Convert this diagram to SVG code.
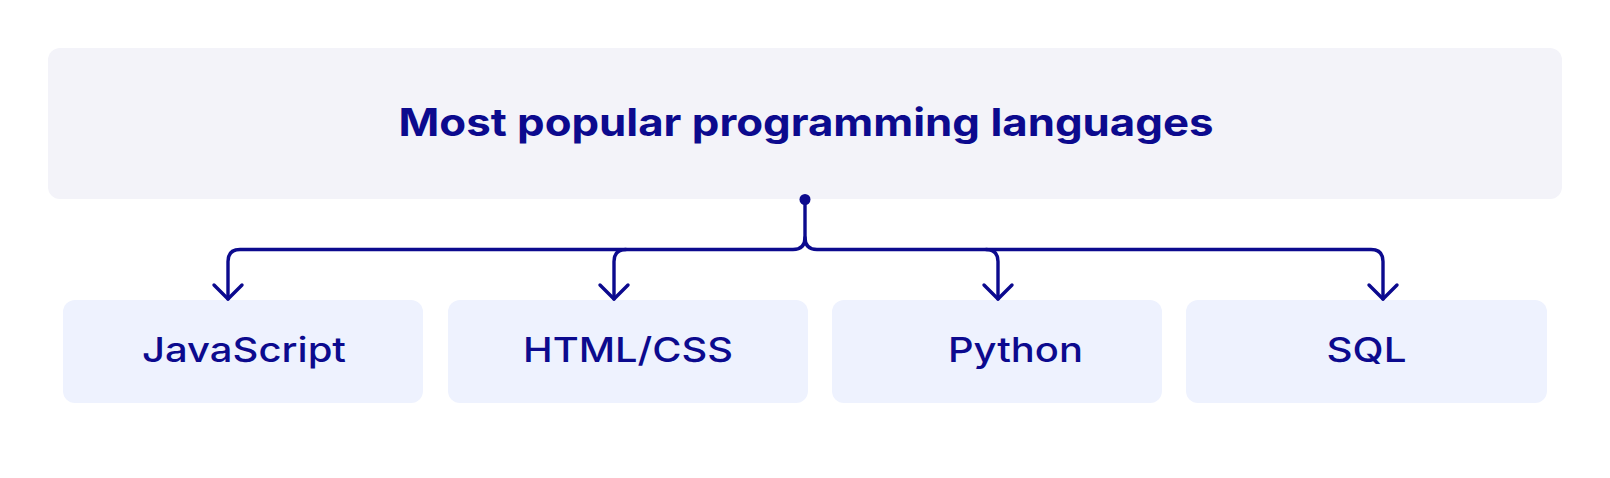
<svg xmlns="http://www.w3.org/2000/svg" width="1610" height="478" viewBox="0 0 1610 478">
  <style>
    .top { fill: #F3F3F9; }
    .box { fill: #EEF2FE; }
    .title { font-family: Inter, "Liberation Sans", sans-serif; font-weight: 700; font-size: 38px; fill: #0C0A8E; }
    .label { font-family: Inter, "Liberation Sans", sans-serif; font-weight: 500; font-size: 34px; fill: #0C0A8E; }
    .conn { fill: none; stroke: #0C0A8E; stroke-width: 3.4; stroke-linecap: round; stroke-linejoin: round; }
  </style>
  <defs>
    <marker id="arrow" markerUnits="userSpaceOnUse" viewBox="-16 -16 18 32" refX="0" refY="0" markerWidth="18" markerHeight="32" orient="auto" overflow="visible">
      <path d="M-14,-14 L0,0 L-14,14" fill="none" stroke="#0C0A8E" stroke-width="3.4" stroke-linecap="round" stroke-linejoin="round"/>
    </marker>
  </defs>
  <rect width="1610" height="478" fill="#FFFFFF"/>

  <g id="node-root">
    <rect class="top" x="48" y="48" width="1514" height="151" rx="12"/>
    <text class="title" x="806" y="136" text-anchor="middle" textLength="815" lengthAdjust="spacingAndGlyphs">Most popular programming languages</text>
  </g>

  <g id="node-javascript">
    <rect class="box" x="63" y="300" width="360" height="103" rx="12"/>
    <text class="label" x="244" y="362" text-anchor="middle" textLength="204" lengthAdjust="spacingAndGlyphs">JavaScript</text>
  </g>
  <g id="node-htmlcss">
    <rect class="box" x="448" y="300" width="360" height="103" rx="12"/>
    <text class="label" x="628" y="362" text-anchor="middle" textLength="210" lengthAdjust="spacingAndGlyphs">HTML/CSS</text>
  </g>
  <g id="node-python">
    <rect class="box" x="832" y="300" width="330" height="103" rx="12"/>
    <text class="label" x="1015.5" y="362" text-anchor="middle" textLength="135" lengthAdjust="spacingAndGlyphs">Python</text>
  </g>
  <g id="node-sql">
    <rect class="box" x="1186" y="300" width="361" height="103" rx="12"/>
    <text class="label" x="1366.5" y="362" text-anchor="middle" textLength="80" lengthAdjust="spacingAndGlyphs">SQL</text>
  </g>

  <g id="connectors">
    <circle cx="805" cy="199.5" r="5.5" fill="#0C0A8E"/>
    <path class="conn" d="M805,199.5 V237.5 Q805,249.5 793,249.5 H240 Q228,249.5 228,261.5 V299" marker-end="url(#arrow)"/>
    <path class="conn" d="M626,249.5 Q614,249.5 614,261.5 V299" marker-end="url(#arrow)"/>
    <path class="conn" d="M805,237.5 Q805,249.5 817,249.5 H1371 Q1383,249.5 1383,261.5 V299" marker-end="url(#arrow)"/>
    <path class="conn" d="M986,249.5 Q998,249.5 998,261.5 V299" marker-end="url(#arrow)"/>
  </g>
</svg>
